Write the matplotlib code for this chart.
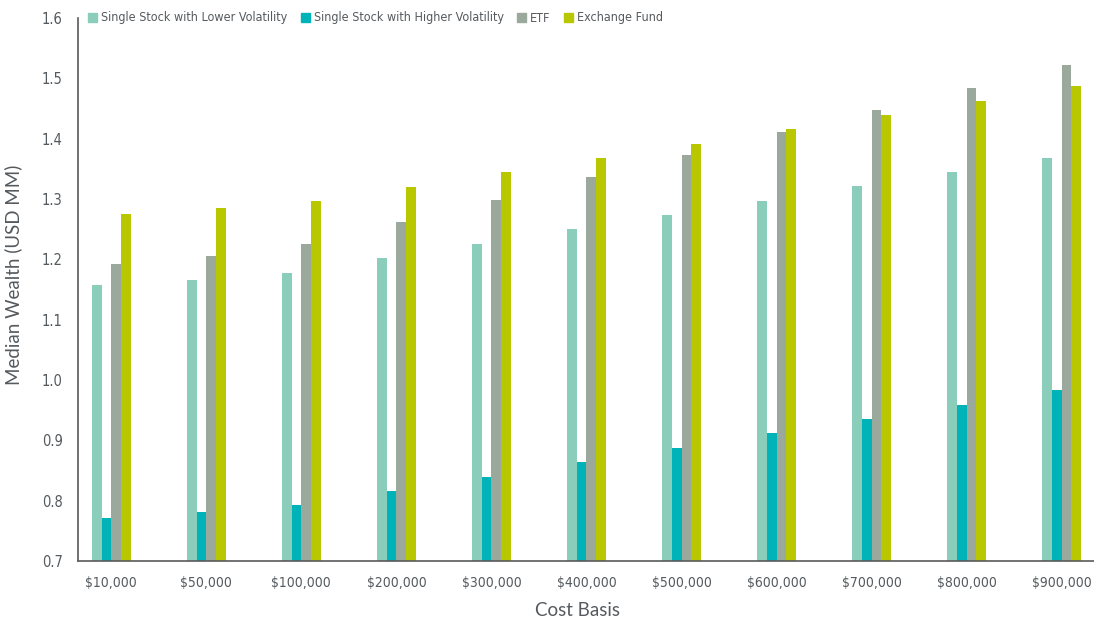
import numpy as np
import matplotlib.pyplot as plt
from matplotlib.patches import Patch
from matplotlib import font_manager

# date
categorii = ["$10,000", "$50,000", "$100,000", "$200,000", "$300,000", "$400,000",
             "$500,000", "$600,000", "$700,000", "$800,000", "$900,000"]
serii = ["Single Stock with Lower Volatility", "Single Stock with Higher Volatility",
         "ETF", "Exchange Fund"]
volatil_mic = [1.157, 1.166, 1.177, 1.202, 1.226, 1.250, 1.274, 1.297, 1.322, 1.345, 1.368]
volatil_mare = [0.771, 0.781, 0.793, 0.816, 0.839, 0.864, 0.887, 0.912, 0.935, 0.959, 0.983]
etf = [1.192, 1.206, 1.226, 1.262, 1.298, 1.337, 1.373, 1.411, 1.448, 1.484, 1.522]
fond_schimb = [1.275, 1.285, 1.297, 1.320, 1.345, 1.368, 1.391, 1.416, 1.439, 1.462, 1.487]

culori = ["#8bcdbb", "#00b3b9", "#9aa99b", "#b9c700"]
text_gri = "#555a5e"

# font ingust (DejaVu Sans Condensed)
ingust = font_manager.FontProperties(family="DejaVu Sans", stretch="condensed")

fig = plt.figure(figsize=(10.94, 6.22), dpi=100)
ax = fig.add_axes([78 / 1094, 61 / 622, 1016 / 1094, 543 / 622])

x = np.arange(len(categorii))
w = 0.1026
valori = [volatil_mic, volatil_mare, etf, fond_schimb]
for i, v in enumerate(valori):
    ax.bar(x + (i - 1.5) * w, np.array(v) - 0.7, w, bottom=0.7, color=culori[i], linewidth=0)

ax.set_ylim(0.7, 1.6)
ax.set_xlim(-0.35, 10.34)
ax.set_yticks(np.arange(0.7, 1.61, 0.1))
ax.set_yticklabels(["%.1f" % t for t in np.arange(0.7, 1.61, 0.1)])
ax.set_xticks(x)
ax.set_xticklabels(categorii)
ax.tick_params(length=0, labelcolor=text_gri)
ax.tick_params(axis="y", pad=11)
ax.tick_params(axis="x", pad=11)
for lab in ax.get_xticklabels():
    lab.set_fontproperties(ingust)
    lab.set_size(10)
for lab in ax.get_yticklabels():
    lab.set_fontproperties(ingust)
    lab.set_size(10.5)

for s in ["top", "right"]:
    ax.spines[s].set_visible(False)
for s in ["left", "bottom"]:
    ax.spines[s].set_color("#5a5a5a")
    ax.spines[s].set_linewidth(1.2)

ax.set_ylabel("Median Wealth (USD MM)", fontsize=13.5, color=text_gri, family="Lato", va="center")
ax.set_xlabel("Cost Basis", fontsize=13.5, color=text_gri, family="Lato", va="center")
ax.yaxis.set_label_coords(-0.064, 0.527)
ax.xaxis.set_label_coords(0.492, -0.092)

handles = [Patch(color=c) for c in culori]
prop_leg = ingust.copy()
prop_leg.set_size(9)
leg = ax.legend(handles, serii, loc="center left", bbox_to_anchor=(10 / 1016, 1.0), ncol=4,
                frameon=False, borderaxespad=0, borderpad=0, handlelength=0.75,
                handleheight=0.75, handletextpad=0.3, columnspacing=1.05, prop=prop_leg)
for t in leg.get_texts():
    t.set_color(text_gri)

fig.savefig("out.png", dpi=100)
